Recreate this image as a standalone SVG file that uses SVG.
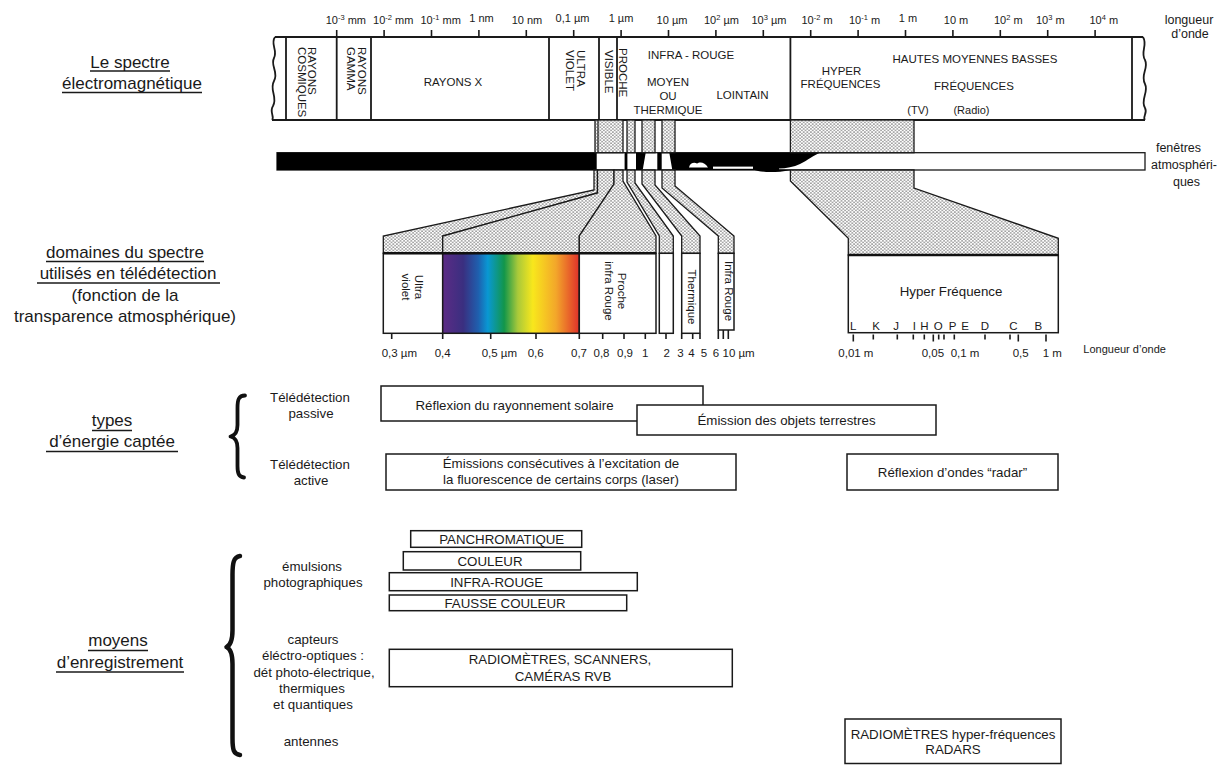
<svg xmlns="http://www.w3.org/2000/svg" width="1225" height="765" viewBox="0 0 1225 765">
<defs>
<style>
text{font-family:"Liberation Sans",Arial,Helvetica,sans-serif;fill:#1a1a1a}
.f11{font-size:11px}
.f115{font-size:11.5px}
.f12{font-size:12.5px}
.f13{font-size:13.3px}
.f17{font-size:17px}
.m{text-anchor:middle}
.sup{font-size:7.5px}
.ln{stroke:#1a1a1a;stroke-width:1.8;fill:none}
.tk{stroke:#1a1a1a;stroke-width:1.6}
.box{fill:#fff;stroke:#1a1a1a;stroke-width:1.5}
.dot{fill:url(#dots);stroke:#1a1a1a;stroke-width:1.3}
.ul{stroke:#1a1a1a;stroke-width:1.3}
.brace{fill:none;stroke:#111;stroke-linecap:round;stroke-linejoin:round}
</style>
<pattern id="dots" width="3.6" height="3.2" patternUnits="userSpaceOnUse">
<rect width="3.6" height="3.2" fill="#fff"/>
<circle cx="0.9" cy="0.8" r="0.68" fill="#3a3a3a"/>
<circle cx="2.7" cy="2.4" r="0.68" fill="#3a3a3a"/>
</pattern>
<linearGradient id="spec" gradientUnits="userSpaceOnUse" x1="442.7" y1="0" x2="579.3" y2="0">
<stop offset="0" stop-color="#5c2b85"/>
<stop offset="0.15" stop-color="#3a2f80"/>
<stop offset="0.26" stop-color="#1f5fae"/>
<stop offset="0.33" stop-color="#0998d3"/>
<stop offset="0.45" stop-color="#12964a"/>
<stop offset="0.55" stop-color="#a9c93a"/>
<stop offset="0.66" stop-color="#f8e71c"/>
<stop offset="0.83" stop-color="#f3a62a"/>
<stop offset="1" stop-color="#e0302a"/>
</linearGradient>
</defs>
<rect width="1225" height="765" fill="#fff"/>

<!-- left headings -->
<g id="label-spectre">
<text class="f17 m" x="130" y="67.5">Le spectre</text>
<text class="f17 m" x="132" y="88.5">électromagnétique</text>
<line class="ul" x1="90" y1="71" x2="170" y2="71"/>
<line class="ul" x1="62" y1="92.5" x2="202" y2="92.5"/>
</g>
<g id="label-domaines">
<text class="f17 m" x="125" y="257.5">domaines du spectre</text>
<text class="f17 m" x="128" y="279">utilisés en télédétection</text>
<text class="f17 m" x="125" y="300.5">(fonction de la</text>
<text class="f17 m" x="125" y="322">transparence atmosphérique)</text>
<line class="ul" x1="46" y1="261.5" x2="204" y2="261.5"/>
<line class="ul" x1="37" y1="283" x2="220" y2="283"/>
</g>
<g id="label-types">
<text class="f17 m" x="112" y="426">types</text>
<text class="f17 m" x="112" y="447">d’énergie captée</text>
<line class="ul" x1="92" y1="430.5" x2="132" y2="430.5"/>
<line class="ul" x1="46" y1="451.5" x2="178" y2="451.5"/>
</g>
<g id="label-moyens">
<text class="f17 m" x="118" y="646">moyens</text>
<text class="f17 m" x="120" y="667.5">d’enregistrement</text>
<line class="ul" x1="88" y1="650.5" x2="148" y2="650.5"/>
<line class="ul" x1="56" y1="672" x2="184" y2="672"/>
</g>

<!-- top scale -->
<g id="scale-top">
<g class="tk">
<line x1="336.7" y1="30" x2="336.7" y2="37"/><line x1="384.1" y1="30" x2="384.1" y2="37"/>
<line x1="431.5" y1="30" x2="431.5" y2="37"/><line x1="478.9" y1="30" x2="478.9" y2="37"/>
<line x1="526.3" y1="30" x2="526.3" y2="37"/><line x1="573.7" y1="30" x2="573.7" y2="37"/>
<line x1="621.1" y1="30" x2="621.1" y2="37"/><line x1="668.5" y1="30" x2="668.5" y2="37"/>
<line x1="715.9" y1="30" x2="715.9" y2="37"/><line x1="763.3" y1="30" x2="763.3" y2="37"/>
<line x1="810.7" y1="30" x2="810.7" y2="37"/><line x1="858.1" y1="30" x2="858.1" y2="37"/>
<line x1="905.5" y1="30" x2="905.5" y2="37"/><line x1="952.9" y1="30" x2="952.9" y2="37"/>
<line x1="1000.3" y1="30" x2="1000.3" y2="37"/><line x1="1047.7" y1="30" x2="1047.7" y2="37"/>
<line x1="1095.1" y1="30" x2="1095.1" y2="37"/>
</g>
<text class="f11" x="325.7" y="24">10<tspan class="sup" dy="-4.5">-3</tspan><tspan dy="4.5"> mm</tspan></text>
<text class="f11" x="373.1" y="24">10<tspan class="sup" dy="-4.5">-2</tspan><tspan dy="4.5"> mm</tspan></text>
<text class="f11" x="420.5" y="24">10<tspan class="sup" dy="-4.5">-1</tspan><tspan dy="4.5"> mm</tspan></text>
<text class="f11 m" x="481.5" y="21.5">1 nm</text>
<text class="f11 m" x="527" y="24">10 nm</text>
<text class="f11 m" x="572.5" y="21.5">0,1 µm</text>
<text class="f11 m" x="621" y="22">1 µm</text>
<text class="f11 m" x="672" y="24">10 µm</text>
<text class="f11" x="704" y="24">10<tspan class="sup" dy="-4.5">2</tspan><tspan dy="4.5"> µm</tspan></text>
<text class="f11" x="751.5" y="24">10<tspan class="sup" dy="-4.5">3</tspan><tspan dy="4.5"> µm</tspan></text>
<text class="f11" x="801.5" y="24">10<tspan class="sup" dy="-4.5">-2</tspan><tspan dy="4.5"> m</tspan></text>
<text class="f11" x="849" y="24">10<tspan class="sup" dy="-4.5">-1</tspan><tspan dy="4.5"> m</tspan></text>
<text class="f11 m" x="908" y="21.5">1 m</text>
<text class="f11 m" x="956" y="24">10 m</text>
<text class="f11" x="994" y="24">10<tspan class="sup" dy="-4.5">2</tspan><tspan dy="4.5"> m</tspan></text>
<text class="f11" x="1036" y="24">10<tspan class="sup" dy="-4.5">3</tspan><tspan dy="4.5"> m</tspan></text>
<text class="f11" x="1089.5" y="24">10<tspan class="sup" dy="-4.5">4</tspan><tspan dy="4.5"> m</tspan></text>
<text class="f12 m" x="1189" y="24">longueur</text>
<text class="f12 m" x="1190" y="38">d’onde</text>
</g>

<!-- main spectrum bar -->
<g id="spectre-bar">
<path class="ln" d="M275,37 L1143,37 M272,120 L1145,120"/>
<path class="ln" d="M275,37 C270,44 278,50 274,58 C270,66 279,72 274,81 C269,90 278,97 273,106 C269,112 275,117 272,120"/>
<path class="ln" d="M1143,37 C1148,45 1140,52 1145,60 C1149,68 1140,75 1145,84 C1149,92 1140,100 1145,108 C1148,113 1142,117 1145,120"/>
<path class="ln" d="M286,37 V120 M336.7,37 V120 M371,37 V120 M549,37 V120 M599,37 V120 M617,37 V120 M790.4,37 V120 M1132,37 V120"/>
<text class="f115" transform="translate(308,47) rotate(90)">RAYONS<tspan x="0" dy="10">COSMIQUES</tspan></text>
<text class="f115" transform="translate(357.5,47) rotate(90)">RAYONS<tspan x="0" dy="11">GAMMA</tspan></text>
<text class="f115 m" x="453" y="86">RAYONS X</text>
<text class="f115" transform="translate(577,50) rotate(90)">ULTRA<tspan x="0" dy="11">VIOLET</tspan></text>
<text class="f115" transform="translate(605,50) rotate(90)">VISIBLE</text>
<text class="f115" transform="translate(619,48) rotate(90)">PROCHE</text>
<text class="f115 m" x="691" y="58.5">INFRA - ROUGE</text>
<text class="f115 m" x="668" y="86">MOYEN</text>
<text class="f115 m" x="668" y="99.5">OU</text>
<text class="f115 m" x="668" y="113.5">THERMIQUE</text>
<text class="f115 m" x="742.5" y="99">LOINTAIN</text>
<text class="f115 m" x="841.5" y="74.5">HYPER</text>
<text class="f115 m" x="840.5" y="88">FRÉQUENCES</text>
<text class="f115 m" x="975" y="63">HAUTES MOYENNES BASSES</text>
<text class="f115 m" x="974" y="90">FRÉQUENCES</text>
<text class="f11 m" x="918" y="114">(TV)</text>
<text class="f11 m" x="971.5" y="114">(Radio)</text>
</g>

<!-- atmospheric windows -->
<g id="fenetres">
<rect x="277" y="152.7" width="868" height="17.3" fill="#fff" stroke="#1a1a1a" stroke-width="1.3"/>
<rect x="277" y="152.7" width="319.7" height="17.3" fill="#000"/>
<rect x="624.6" y="152.7" width="2.8" height="17.3" fill="#000"/>
<polygon points="636,152.7 645.7,152.7 642.7,170 636,170" fill="#000"/>
<rect x="657.3" y="152.7" width="4.4" height="17.3" fill="#000"/>
<path d="M669.3,152.7 L820,152.7 C814,155 808,160 800,164 C794,167 786,168.3 779,168.6 L779,170 L672.3,170 Z" fill="#000"/>
<path d="M689,167.5 C690,163 694,162 697,163.5 C699.5,161.5 705,161.8 708,167.5 Z" fill="#fff"/>
<rect x="713" y="166.6" width="40" height="2.2" fill="#fff"/>
<path d="M753,169.5 C762,172.8 776,172.8 790,170.2 L790,169.5 Z" fill="#000"/>
<text class="f12 m" x="1178.5" y="152">fenêtres</text>
<text class="f12 m" x="1184" y="169">atmosphéri-</text>
<text class="f12 m" x="1186.5" y="186">ques</text>
</g>

<!-- connectors: transmission wedges -->
<g id="connectors">
<rect class="dot" x="595" y="120" width="28" height="32.7"/>
<line x1="598" y1="120" x2="598" y2="152.7" stroke="#1a1a1a" stroke-width="1.2"/>
<rect class="dot" x="627" y="120" width="8" height="32.7"/>
<rect class="dot" x="642" y="120" width="13" height="32.7"/>
<rect class="dot" x="662" y="120" width="13" height="32.7"/>
<rect class="dot" x="790.4" y="120" width="123.6" height="32.7"/>
<polygon class="dot" points="594,170 597.5,170 597.5,193 442.7,236 442.7,253.3 383.3,253.3 383.3,236 594,190"/>
<polygon class="dot" points="597.5,170 614,170 614,184 579.3,236 579.3,253.3 442.7,253.3 442.7,236 597.5,193"/>
<polygon class="dot" points="614,170 623,170 623,181 656,236 656,253.3 579.3,253.3 579.3,236 614,184"/>
<polygon class="dot" points="627,170 635,170 635,183 673.3,236 673.3,253.3 659.3,253.3 659.3,236 627,182"/>
<polygon class="dot" points="642,170 655,170 655,185 700,236 700,253.3 681.7,253.3 681.7,236 642,184"/>
<polygon class="dot" points="662,170 675,170 675,186 734,236 734,253.3 718.3,253.3 718.3,236 662,188"/>
<polygon class="dot" points="790.4,170 914,170 914,188 1058.3,238.3 1058.3,255 848.3,255 848.3,238.3 790.4,181"/>
</g>

<!-- remote sensing domains -->
<g id="domaine-uv">
<rect class="box" x="383.3" y="253.3" width="59.4" height="80"/>
<text class="f115 m" transform="translate(415,287) rotate(90)">Ultra<tspan x="0" dy="13.5">violet</tspan></text>
</g>
<g id="domaine-visible">
<rect x="442.7" y="253.3" width="136.6" height="80" fill="url(#spec)" stroke="#1a1a1a" stroke-width="1.5"/>
</g>
<g id="domaine-pir">
<rect class="box" x="579.3" y="253.3" width="76.7" height="80"/>
<text class="f115 m" transform="translate(618,291) rotate(90)">Proche<tspan x="0" dy="13.5">infra Rouge</tspan></text>
</g>
<g id="domaine-2">
<rect class="box" x="659.3" y="253.3" width="14" height="80"/>
</g>
<g id="domaine-thermique">
<rect class="box" x="681.7" y="253.3" width="18.3" height="80"/>
<text class="f115 m" transform="translate(688,297) rotate(90)">Thermique</text>
</g>
<g id="domaine-ir">
<rect class="box" x="718.3" y="253.3" width="15.7" height="76.7"/>
<text class="f115 m" transform="translate(725,291) rotate(90)">Infra Rouge</text>
</g>
<line x1="383.3" y1="253.3" x2="656" y2="253.3" stroke="#111" stroke-width="2.4"/>
<g id="scale-domaines">
<g class="tk">
<line x1="391.7" y1="333.5" x2="391.7" y2="339"/><line x1="442.7" y1="333.5" x2="442.7" y2="339"/>
<line x1="490.7" y1="333.5" x2="490.7" y2="339"/><line x1="536" y1="333.5" x2="536" y2="339"/>
<line x1="579.3" y1="333.5" x2="579.3" y2="339"/><line x1="602.7" y1="333.5" x2="602.7" y2="339"/>
<line x1="624" y1="333.5" x2="624" y2="339"/><line x1="645.3" y1="333.5" x2="645.3" y2="339"/>
<line x1="666" y1="333.5" x2="666" y2="339"/><line x1="681.7" y1="333.5" x2="681.7" y2="339"/>
<line x1="692.7" y1="333.5" x2="692.7" y2="339"/><line x1="700" y1="333.5" x2="700" y2="339"/>
<line x1="718.3" y1="330" x2="718.3" y2="339"/><line x1="723.3" y1="330" x2="723.3" y2="339"/>
<line x1="728.3" y1="330" x2="728.3" y2="339"/>
</g>
<text class="f115" x="381.7" y="357">0,3 µm</text>
<text class="f115 m" x="442.7" y="357">0,4</text>
<text class="f115" x="481.7" y="357">0,5 µm</text>
<text class="f115 m" x="535.7" y="357">0,6</text>
<text class="f115 m" x="579" y="357">0,7</text>
<text class="f115 m" x="601.5" y="357">0,8</text>
<text class="f115 m" x="625" y="357">0,9</text>
<text class="f115 m" x="645.3" y="357">1</text>
<text class="f115 m" x="666.7" y="357">2</text>
<text class="f115 m" x="680.5" y="357">3</text>
<text class="f115 m" x="691.5" y="357">4</text>
<text class="f115 m" x="704" y="357">5</text>
<text class="f115 m" x="716" y="357">6</text>
<text class="f115" x="722.5" y="357">10 µm</text>
</g>

<g id="domaine-hyper">
<rect class="box" x="848.3" y="255" width="210" height="77.7"/>
<line x1="848.3" y1="255" x2="1058.3" y2="255" stroke="#111" stroke-width="2.6"/>
<text class="f13 m" x="951" y="296">Hyper Fréquence</text>
<text class="f115 m" x="853.3" y="329.5">L</text>
<text class="f115 m" x="876" y="329.5">K</text>
<text class="f115 m" x="896" y="329.5">J</text>
<text class="f115 m" x="914.3" y="329.5">I</text>
<text class="f115 m" x="924.3" y="329.5">H</text>
<text class="f115 m" x="938.3" y="329.5">O</text>
<text class="f115 m" x="952.7" y="329.5">P</text>
<text class="f115 m" x="965" y="329.5">E</text>
<text class="f115 m" x="985" y="329.5">D</text>
<text class="f115 m" x="1013.3" y="329.5">C</text>
<text class="f115 m" x="1038.3" y="329.5">B</text>
<g class="tk">
<line x1="853.3" y1="334.5" x2="853.3" y2="341.5"/><line x1="873.3" y1="334.5" x2="873.3" y2="339.5"/>
<line x1="897.3" y1="334.5" x2="897.3" y2="339.5"/><line x1="913.3" y1="334.5" x2="913.3" y2="339.5"/>
<line x1="924.3" y1="334.5" x2="924.3" y2="339.5"/><line x1="933.3" y1="334.5" x2="933.3" y2="341.5"/>
<line x1="938.7" y1="334.5" x2="938.7" y2="339.5"/><line x1="944" y1="334.5" x2="944" y2="339.5"/>
<line x1="954.3" y1="334.5" x2="954.3" y2="339.5"/><line x1="985" y1="334.5" x2="985" y2="339.5"/>
<line x1="1010" y1="334.5" x2="1010" y2="339.5"/><line x1="1018.3" y1="334.5" x2="1018.3" y2="341.5"/>
<line x1="1046" y1="334.5" x2="1046" y2="341.5"/>
</g>
<text class="f115" x="838.3" y="356.5">0,01 m</text>
<text class="f115" x="921.7" y="356.5">0,05</text>
<text class="f115" x="950.7" y="356.5">0,1 m</text>
<text class="f115" x="1012.7" y="356.5">0,5</text>
<text class="f115" x="1042.7" y="356.5">1 m</text>
<text class="f11" x="1083.3" y="353">Longueur d’onde</text>
</g>

<!-- energy types -->
<g id="brace-energie">
<path class="brace" stroke-width="3.8" d="M245,395.5 C238.5,395.5 237.5,400 237.5,408 L237.5,425 C237.5,432 235,435.5 230.5,436.5 C235,437.5 237.5,441 237.5,448 L237.5,466 C237.5,473 238.5,477 244,477.5"/>
</g>
<g id="label-passive">
<text class="f13 m" x="310" y="401.5">Télédétection</text>
<text class="f13 m" x="311" y="417.5">passive</text>
</g>
<g id="label-active">
<text class="f13 m" x="310" y="469">Télédétection</text>
<text class="f13 m" x="311" y="485">active</text>
</g>
<g id="box-reflexion-solaire">
<rect class="box" x="381" y="386" width="322" height="35"/>
<text class="f13 m" x="514.5" y="409.5">Réflexion du rayonnement solaire</text>
</g>
<g id="box-emission-terrestre">
<rect class="box" x="637" y="405" width="299" height="30"/>
<text class="f13 m" x="786.5" y="425">Émission des objets terrestres</text>
</g>
<g id="box-fluorescence">
<rect class="box" x="386" y="454" width="350" height="36"/>
<text class="f13 m" x="561" y="467.5">Émissions consécutives à l’excitation de</text>
<text class="f13 m" x="561" y="484">la fluorescence de certains corps (laser)</text>
</g>
<g id="box-radar">
<rect class="box" x="847" y="454" width="211" height="36"/>
<text class="f13 m" x="952.5" y="476.5">Réflexion d’ondes “radar”</text>
</g>

<!-- recording means -->
<g id="brace-moyens">
<path class="brace" stroke-width="4.5" d="M240,556 C233.5,557 232.5,563 232.5,575 L232.5,630 C232.5,640 231,645 226.5,647 C231,649 232.5,654 232.5,664 L232.5,738 C232.5,750 233.5,754 240,755"/>
</g>
<g id="label-emulsions">
<text class="f13 m" x="312" y="570.5">émulsions</text>
<text class="f13 m" x="313" y="586.5">photographiques</text>
</g>
<g id="label-capteurs">
<text class="f13 m" x="313" y="644">capteurs</text>
<text class="f13 m" x="313" y="660">éléctro-optiques :</text>
<text class="f13 m" x="314" y="676.5">dét photo-électrique,</text>
<text class="f13 m" x="312" y="692.5">thermiques</text>
<text class="f13 m" x="313" y="708.5">et quantiques</text>
</g>
<g id="label-antennes">
<text class="f13 m" x="311" y="746">antennes</text>
</g>
<g id="box-panchro">
<rect class="box" x="410.7" y="530.7" width="171" height="16.6"/>
<text class="f13 m" x="501.7" y="544">PANCHROMATIQUE</text>
</g>
<g id="box-couleur">
<rect class="box" x="403.3" y="551.7" width="177.4" height="18.3"/>
<text class="f13 m" x="490" y="566">COULEUR</text>
</g>
<g id="box-infrarouge">
<rect class="box" x="389.3" y="572.7" width="248" height="18"/>
<text class="f13 m" x="496.7" y="586.7">INFRA-ROUGE</text>
</g>
<g id="box-fausse-couleur">
<rect class="box" x="389.3" y="595" width="237.4" height="15.7"/>
<text class="f13 m" x="505" y="607.5">FAUSSE COULEUR</text>
</g>
<g id="box-radiometres">
<rect class="box" x="389.3" y="649.3" width="343" height="37.4"/>
<text class="f13 m" x="560" y="663.5">RADIOMÈTRES, SCANNERS,</text>
<text class="f13 m" x="563" y="681">CAMÉRAS RVB</text>
</g>
<g id="box-radars">
<rect class="box" x="845" y="719" width="216" height="44.5"/>
<text class="f13 m" x="953" y="738.5">RADIOMÈTRES hyper-fréquences</text>
<text class="f13 m" x="953" y="753.5">RADARS</text>
</g>
</svg>
